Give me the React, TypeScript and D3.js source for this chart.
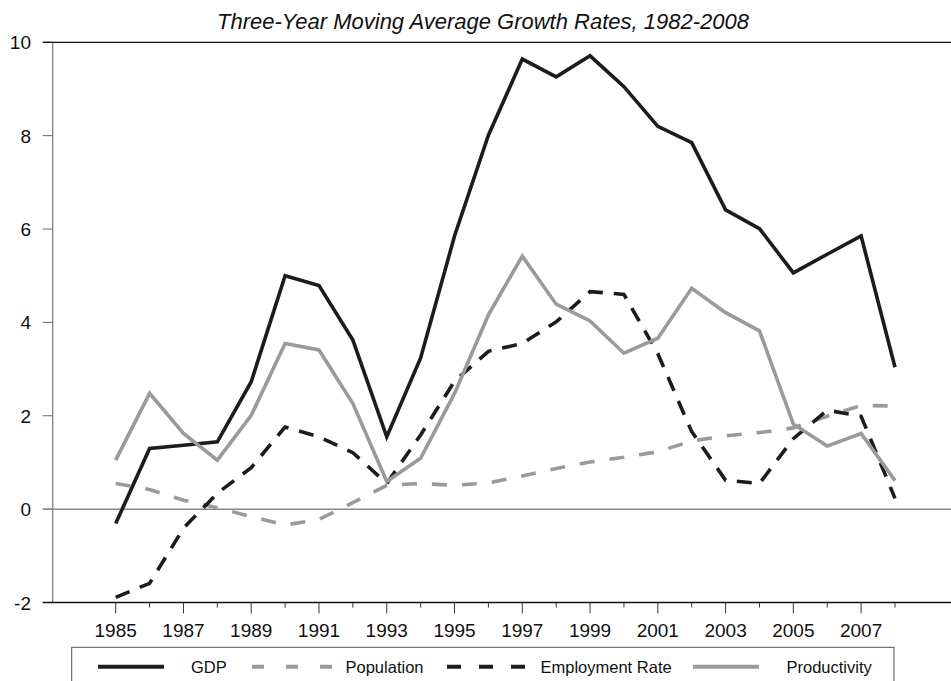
import React from 'react'
import * as d3 from 'd3'

const years = d3.range(1985, 2009)
const yTicks = [-2, 0, 2, 4, 6, 8, 10]
const title = 'Three-Year Moving Average Growth Rates, 1982-2008'

const gdp = [-0.31, 1.3, 1.37, 1.44, 2.73, 5.0, 4.79, 3.62, 1.55, 3.24, 5.85, 8.01, 9.64, 9.26, 9.71, 9.05, 8.2, 7.85, 6.41, 6.01, 5.06, 5.46, 5.85, 3.04]
const population = [0.55, 0.42, 0.19, 0.03, -0.16, -0.34, -0.22, 0.14, 0.51, 0.55, 0.51, 0.56, 0.71, 0.87, 1.01, 1.11, 1.23, 1.46, 1.57, 1.64, 1.74, 1.99, 2.22, 2.21]
const employment = [-1.89, -1.59, -0.41, 0.34, 0.89, 1.76, 1.55, 1.21, 0.55, 1.59, 2.74, 3.38, 3.55, 4.01, 4.66, 4.6, 3.33, 1.66, 0.62, 0.55, 1.51, 2.12, 1.99, 0.23]
const productivity = [1.05, 2.48, 1.62, 1.05, 2.01, 3.55, 3.41, 2.26, 0.59, 1.09, 2.48, 4.16, 5.42, 4.39, 4.03, 3.34, 3.66, 4.73, 4.21, 3.82, 1.82, 1.35, 1.62, 0.61]

const series = [
  { name: 'GDP', values: gdp, color: '#1c1c1c', dash: null },
  { name: 'Population', values: population, color: '#9a9a9a', dash: '15,15' },
  { name: 'Employment Rate', values: employment, color: '#1c1c1c', dash: '15,11' },
  { name: 'Productivity', values: productivity, color: '#9a9a9a', dash: null },
]

const App = () => {
  const width = 951
  const height = 681
  const x = d3.scaleLinear().domain([1985, 2008]).range([115.7, 895])
  const y = d3.scaleLinear().domain([-2, 10]).range([602.5, 42.3])
  const line = d3.line<number>().x((d, i) => x(years[i])).y(d => y(d))
  const font = '"Liberation Sans", Arial, sans-serif'
  const axisLeft = 52.7

  // legend layout (x positions of sample + label)
  const legend = [
    { x1: 98, x2: 164, tx: 191, dash: null },
    { x1: 252, x2: 332, tx: 345.5, dash: '12,22' },
    { x1: 447, x2: 526, tx: 540.5, dash: '14,18' },
    { x1: 693, x2: 759, tx: 786.5, dash: null },
  ]

  return (
    <svg width={width} height={height} style={{ position: 'absolute', left: 0, top: 0 }} fontFamily={font}>
      <text x={483} y={29} textAnchor="middle" fontSize={22} fontStyle="italic" fill="#111">{title}</text>

      {/* y ticks and labels */}
      {yTicks.map(t => (
        <g key={t}>
          <line x1={42.7} x2={axisLeft} y1={y(t)} y2={y(t)} stroke={t === 10 || t === -2 ? '#111' : '#666'} strokeWidth={1} />
          <text x={31} y={y(t) + 7} textAnchor="end" fontSize={19} fill="#111">{t}</text>
        </g>
      ))}

      <line x1={axisLeft} x2={axisLeft} y1={y(10)} y2={y(-2)} stroke="#777" strokeWidth={1.2} />
      <line x1={42.7} x2={width} y1={y(10)} y2={y(10)} stroke="#111" strokeWidth={1.3} />
      <line x1={42.7} x2={width} y1={y(0)} y2={y(0)} stroke="#888" strokeWidth={1.5} />
      <line x1={42.7} x2={width} y1={y(-2)} y2={y(-2)} stroke="#111" strokeWidth={1.3} />

      {/* x ticks and labels */}
      {years.map(yr => (
        <g key={yr}>
          <line x1={x(yr)} x2={x(yr)} y1={y(-2)} y2={y(-2) + (yr % 2 === 1 ? 11 : 5)} stroke="#333" strokeWidth={1} />
          {yr % 2 === 1 && (
            <text x={x(yr)} y={636.7} textAnchor="middle" fontSize={19} fill="#111">{yr}</text>
          )}
        </g>
      ))}

      {series.map(s => (
        <path key={s.name} d={line(s.values) || ''} fill="none" stroke={s.color} strokeWidth={3.6}
          strokeDasharray={s.dash || undefined} strokeLinejoin="miter" />
      ))}

      {/* legend */}
      <rect x={71.7} y={647.3} width={894 - 71.7} height={60} fill="none" stroke="#555" strokeWidth={1} />
      {series.map((s, i) => (
        <g key={s.name}>
          <line x1={legend[i].x1} x2={legend[i].x2} y1={666.7} y2={666.7} stroke={s.color} strokeWidth={4}
            strokeDasharray={legend[i].dash || undefined} />
          <text x={legend[i].tx} y={673.3} fontSize={16.5} fill="#111">{s.name}</text>
        </g>
      ))}
    </svg>
  )
}

export default App
